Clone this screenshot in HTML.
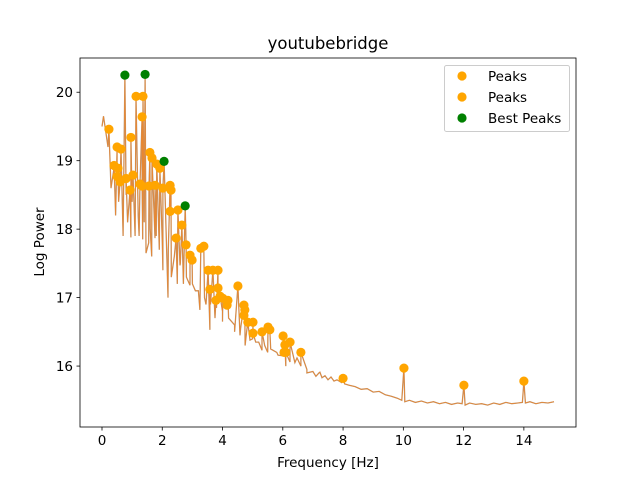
<!DOCTYPE html>
<html><head><meta charset="utf-8"><style>
body{margin:0;background:#fff;}
svg{display:block;font-family:"DejaVu Sans","Liberation Sans",sans-serif;}
</style></head><body>
<svg id="chart" width="640" height="480"></svg>
<script>
const baseFreq=[0,0.05,0.2,0.4,0.6,0.8,1.0,1.2,1.4,1.6,1.8,2.0,2.2,2.4,2.6,2.8,3.0,3.2,3.4,3.6,3.8,4.0,4.2,4.4,4.6,4.8,5.0,5.2,5.4,5.6,5.8,6.0,6.2,6.4,6.6,6.8,7.0,7.1,7.2,7.3,7.4,7.5,7.6,7.7,7.8,7.95,8.05,8.2,8.4,8.6,8.8,9.0,9.2,9.4,9.6,9.8,9.95,10.05,10.2,10.4,10.6,10.8,11.0,11.2,11.4,11.6,11.8,11.95,12.05,12.2,12.4,12.6,12.8,13.0,13.2,13.4,13.6,13.8,13.95,14.05,14.2,14.4,14.6,14.8,15.0];
const baseVal=[19.5,19.65,19.2,18.9,18.7,18.5,18.4,18.2,18.1,18.0,17.9,17.8,17.7,17.6,17.5,17.3,17.2,17.1,17.0,16.9,16.85,16.8,16.7,16.6,16.55,16.5,16.4,16.35,16.3,16.25,16.2,16.15,16.1,16.05,16.0,15.95,15.92,15.85,15.9,15.83,15.86,15.8,15.84,15.78,15.8,15.76,15.74,15.72,15.7,15.66,15.67,15.62,15.63,15.58,15.56,15.53,15.5,15.48,15.5,15.47,15.49,15.46,15.48,15.45,15.47,15.44,15.46,15.45,15.43,15.46,15.44,15.45,15.43,15.46,15.44,15.47,15.45,15.46,15.47,15.46,15.48,15.45,15.47,15.46,15.48];
const dipFreq=[0.3,0.45,0.55,0.7,0.85,0.96,1.1,1.23,1.35,1.46,1.55,1.65,1.76,1.9,2.02,2.19,2.3,2.5,2.59,2.7,2.92,3.1,3.25,3.45,3.58,3.75,4.0,4.18,4.4,4.58,4.75,4.91,5.1,5.31,5.5,5.84,6.1,6.24,6.47,6.8,7.23,7.5];
const dipVal=[18.6,18.2,18.4,17.9,18.1,17.88,17.9,17.9,17.85,17.65,17.8,17.6,17.87,17.7,17.4,17.0,17.3,17.2,17.47,17.2,17.18,17.1,16.82,16.9,16.53,16.7,16.65,16.85,16.5,16.45,16.3,16.38,16.35,16.23,16.2,16.16,16.0,16.06,16.12,15.9,15.91,15.8];
const peakPx=[[109,129],[117,147],[121,149],[114,165],[118,168],[131,137],[136,96],[143,96],[142,117],[150,152],[152,158],[157,164],[160,168],[155,185],[133,175],[126,178],[117,176],[120,182],[130,190],[140,184],[142,186],[149,186],[170,185],[171,190],[163,188],[178,210],[170,211],[176,238],[182,225],[186,245],[190,255],[192,260],[201,248],[204,246],[208,270],[210,289],[213,270],[218,270],[218,288],[216,300],[220,296],[223,298],[227,305],[228,300],[238,286],[244,305],[245,310],[244,315],[248,322],[253,322],[253,333],[262,332],[268,327],[270,330],[283,336],[285,345],[290,342],[284,352],[286,352],[301,352],[343,378],[404,368],[464,385],[524,381]];
const peakFreq=peakPx.map(p=>+((p[0]-102)/30.14).toFixed(2));
const peakVal=peakPx.map(p=>+(20-(p[1]-92)/68.5).toFixed(2));
const bestFreq=[0.76,1.43,2.06,2.76];
const bestVal=[20.25,20.26,18.99,18.34];
const xTicks=[0,2,4,6,8,10,12,14];
const yTicks=[16,17,18,19,20];

const L=80,R=576,T=58,B=427,X0=-0.73,X1=15.73,Y0=15.11,Y1=20.5;
const sx=f=>L+(f-X0)/(X1-X0)*(R-L);
const sy=v=>B-(v-Y0)/(Y1-Y0)*(B-T);
const svg=document.getElementById('chart');
const NS='http://www.w3.org/2000/svg';
function mk(tag,attrs,parent){const e=document.createElementNS(NS,tag);for(const k in attrs)e.setAttribute(k,attrs[k]);(parent||svg).appendChild(e);return e;}

let pts=[];
baseFreq.forEach((f,i)=>pts.push([f,baseVal[i]]));
dipFreq.forEach((f,i)=>pts.push([f,dipVal[i]]));
peakFreq.forEach((f,i)=>pts.push([f,peakVal[i]]));
bestFreq.forEach((f,i)=>pts.push([f,bestVal[i]]));
pts.sort((a,b)=>a[0]-b[0]);
const d=pts.map((p,i)=>(i?'L':'M')+sx(p[0]).toFixed(1)+','+sy(p[1]).toFixed(1)).join('');
let ln=mk('path',{d:d,fill:'none',stroke:'#b09a86','stroke-width':1.3});


ln=mk('path',{d:d,fill:'none',stroke:'#ff7f0e','stroke-width':0.8,'stroke-opacity':0.7});



peakFreq.forEach((f,i)=>{const c=mk('circle',{cx:sx(f),cy:sy(peakVal[i]),r:4.6,fill:'#ffa500'});

});
bestFreq.forEach((f,i)=>{const c=mk('circle',{cx:sx(f),cy:sy(bestVal[i]),r:4.6,fill:'#008000'});

});

let fr=mk('rect',{x:L,y:T,width:R-L,height:B-T,fill:'none',stroke:'#000','stroke-width':0.8});


xTicks.forEach(t=>{const x=sx(t);mk('line',{x1:x,x2:x,y1:B,y2:B+3.5,stroke:'#000','stroke-width':0.8});
const tx=mk('text',{x:x,y:B+18,'font-size':13.5,'text-anchor':'middle'});tx.textContent=t;

});
yTicks.forEach(t=>{const y=sy(t);mk('line',{x1:L,x2:L-3.5,y1:y,y2:y,stroke:'#000','stroke-width':0.8});
const tx=mk('text',{x:L-7,y:y+5,'font-size':13.5,'text-anchor':'end'});tx.textContent=t;

});
</script>
<svg style="position:absolute;left:0;top:0" width="640" height="480">
<text x="328" y="49" font-size="16.5" text-anchor="middle" font-family="DejaVu Sans,sans-serif">youtubebridge</text>
<text x="328" y="467" font-size="13.5" text-anchor="middle" font-family="DejaVu Sans,sans-serif">Frequency [Hz]</text>
<text x="0" y="0" font-size="13.5" text-anchor="middle" font-family="DejaVu Sans,sans-serif" transform="translate(44,242) rotate(-90)">Log Power</text>
<g>
<rect x="444.5" y="65.5" width="125" height="66" rx="2" fill="#fff" fill-opacity="0.8" stroke="#ccc"/>
<circle cx="462" cy="76" r="4.6" fill="#ffa500"/>
<text x="488" y="81" font-size="13.5" font-family="DejaVu Sans,sans-serif">Peaks</text>
<circle cx="462" cy="97" r="4.6" fill="#ffa500"/>
<text x="488" y="102" font-size="13.5" font-family="DejaVu Sans,sans-serif">Peaks</text>
<circle cx="462" cy="118" r="4.6" fill="#008000"/>
<text x="488" y="123" font-size="13.5" font-family="DejaVu Sans,sans-serif">Best Peaks</text>
</g>
</svg>
</body></html>
